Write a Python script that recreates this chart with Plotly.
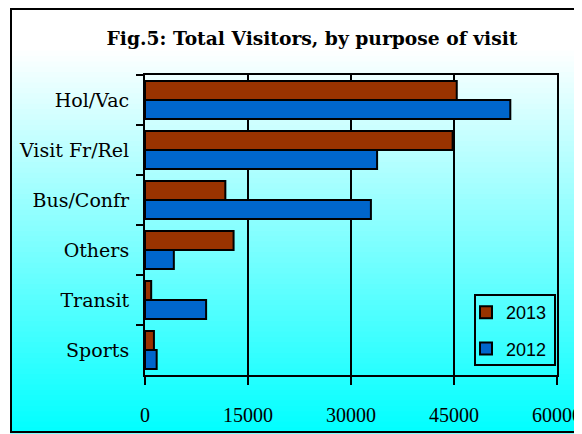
import plotly.graph_objects as go

categories = ["Hol/Vac", "Visit Fr/Rel", "Bus/Confr", "Others", "Transit", "Sports"]
values_2013 = [45400, 44800, 11700, 12900, 900, 1300]
values_2012 = [53200, 33800, 32900, 4200, 8900, 1700]
x_ticks = [0, 15000, 30000, 45000, 60000]

# the page body adds an 8px margin, so the figure is sized/placed accordingly
OX, OY = 8, 8
W, H = 582 - OX, 434 - OY
L, R, T, B = 145 - OX, 25, 75 - OY, 59
PW, PH = W - L - R, H - T - B


def px_x(p):
    """page pixel x -> paper coordinate"""
    return (p - OX - L) / PW


def px_y(p):
    """page pixel y -> paper coordinate"""
    return (H - B - (p - OY)) / PH


fig = go.Figure()
fig.add_trace(go.Bar(
    y=categories, x=values_2013, name="2013", orientation="h",
    marker=dict(color="#993300", line=dict(color="black", width=2)),
    legendgroup="a",
))
fig.add_trace(go.Bar(
    y=categories, x=values_2012, name="2012", orientation="h",
    marker=dict(color="#0066CC", line=dict(color="black", width=2)),
    legendgroup="b",
))

shapes = []
# background gradient: white at top, cyan at bottom
top_px, bot_px = 9, 433
white_until = 50
n = 80
for i in range(n):
    y0p = top_px + (bot_px - top_px) * i / n
    y1p = top_px + (bot_px - top_px) * (i + 1) / n
    mid = (y0p + y1p) / 2
    f = max(0.0, (mid - white_until) / (bot_px - white_until))
    r = int(round(255 * (1 - f)))
    shapes.append(dict(
        type="rect", xref="paper", yref="paper",
        x0=px_x(10), x1=px_x(600), y0=px_y(y1p) - 0.002, y1=px_y(y0p) + 0.002,
        fillcolor=f"rgb({r},255,255)", line=dict(width=0), layer="below",
    ))
# outer border
shapes.append(dict(
    type="rect", xref="paper", yref="paper",
    x0=px_x(11), x1=px_x(600), y0=px_y(432), y1=px_y(9),
    line=dict(color="black", width=2), fillcolor="rgba(0,0,0,0)", layer="above",
))
# legend box
shapes.append(dict(
    type="rect", xref="paper", yref="paper",
    x0=px_x(475), x1=px_x(555), y0=px_y(365), y1=px_y(295),
    line=dict(color="black", width=2), fillcolor="rgba(0,0,0,0)", layer="above",
))

fig.update_layout(
    width=W, height=H,
    margin=dict(l=L, r=R, t=T, b=B, autoexpand=False),
    paper_bgcolor="white",
    plot_bgcolor="rgba(0,0,0,0)",
    barmode="group",
    bargap=0.24,
    bargroupgap=0.0,
    shapes=shapes,
    title=dict(
        text="<b>Fig.5: Total Visitors, by purpose of visit</b>",
        x=(312 - OX) / W, xanchor="center",
        y=1 - (38 - OY) / H, yanchor="middle",
        font=dict(family="DejaVu Serif", size=18.7, color="black"),
    ),
    xaxis=dict(
        range=[0, 60000], tickvals=x_ticks, ticktext=[str(v) for v in x_ticks],
        showgrid=True, gridcolor="black", gridwidth=2,
        showline=True, linecolor="black", linewidth=2, mirror=True,
        ticks="outside", ticklen=8, tickwidth=2, tickcolor="black",
        ticklabelstandoff=13,
        tickfont=dict(family="Liberation Serif", size=20, color="black"),
        zeroline=False, automargin=False,
    ),
    yaxis=dict(
        categoryorder="array", categoryarray=categories,
        autorange="reversed",
        showgrid=False,
        showline=True, linecolor="black", linewidth=2, mirror=True,
        ticks="outside", ticklen=7, tickwidth=2, tickcolor="black",
        tickson="boundaries",
        ticklabelstandoff=10,
        tickfont=dict(family="DejaVu Serif", size=19, color="black"),
        automargin=False,
    ),
    legend=dict(
        x=px_x(466), xanchor="left", y=px_y(294), yanchor="top",
        bgcolor="rgba(0,0,0,0)", borderwidth=0,
        font=dict(family="Liberation Sans", size=18, color="black"),
        traceorder="grouped", tracegroupgap=10,
        itemwidth=30,
    ),
)

fig.write_html("out.html")
